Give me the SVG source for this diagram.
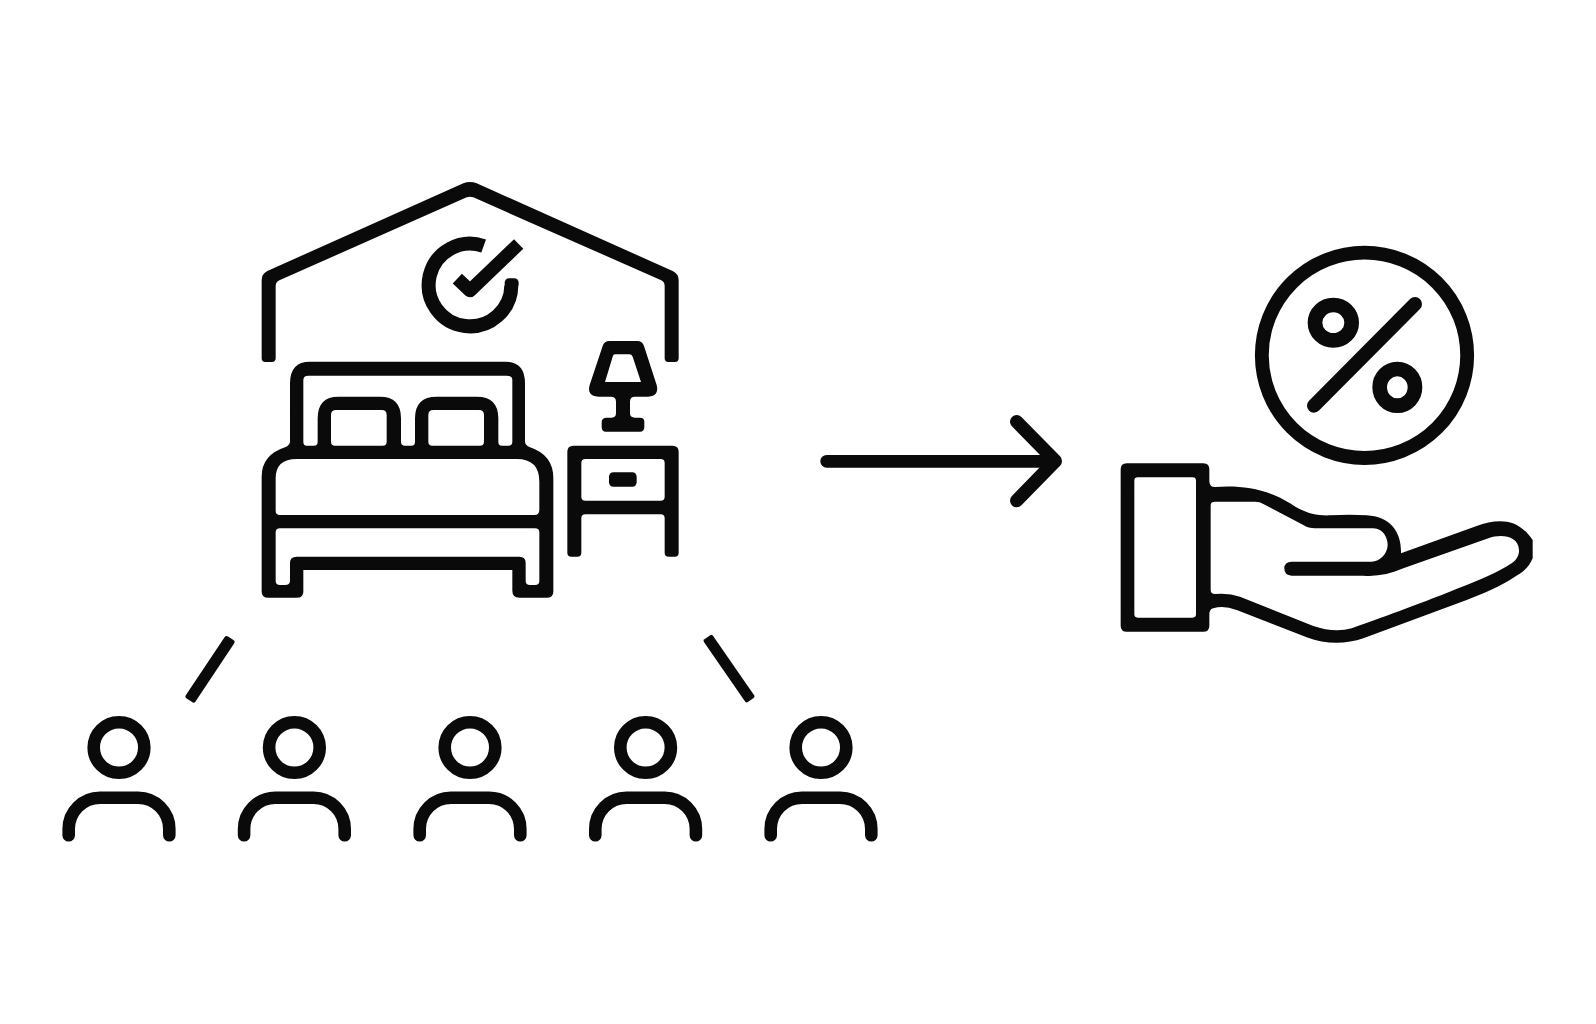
<svg xmlns="http://www.w3.org/2000/svg" width="1596" height="1024" viewBox="0 0 1596 1024">
<style>
.f{fill:#0a0a0a;fill-rule:evenodd;stroke:none}
.s{fill:none;stroke:#0a0a0a;stroke-linejoin:round}
</style>
<defs>
<g id="person">
<circle class="s" cx="0" cy="747.5" r="25.3" stroke-width="12.6"/>
<path class="s" stroke-width="12.6" stroke-linecap="round" d="M-50.3 835.3V829A31.3 31.3 0 0 1 -19 797.7H19A31.3 31.3 0 0 1 50.3 829V835.3"/>
</g>
</defs>
<rect width="1596" height="1024" fill="#fff"/>
<g id="room" transform="translate(240 170) scale(.33333)">
<g id="house">
<path class="f" d="M65 330Q65 312 82 303L670 40Q690 32 710 40L1298 303Q1316 312 1316 330V565Q1316 576 1305 576H1285Q1274 576 1274 565V348Q1274 335 1262 330L700 82Q690 78 680 82L120 330Q107 335 107 348V565Q107 576 96 576H76Q65 576 65 565Z"/>
</g>
<g id="check">
<path class="s" stroke-width="42" d="M731 228A124 124 0 1 0 814 346"/>
<rect class="f" x="794" y="325" width="42" height="30" rx="13"/>
<path class="s" stroke-width="40" d="M652 326L690 362L836 222"/>
</g>
<g id="bed">
<path class="f" d="M210 575H795Q855 575 855 640V815Q855 825 870 832Q940 855 940 925V1265Q940 1283 920 1283H838Q817 1283 817 1262V1200H190V1265Q190 1283 170 1283H85Q65 1283 65 1265V920Q65 855 135 832Q150 825 150 815V640Q150 575 210 575Z
M190 630Q190 617 205 617H800Q817 617 817 630V815Q817 827 805 827H785Q775 827 775 815V745Q775 680 710 680H590Q525 680 525 745V815Q525 827 515 827H495Q483 827 483 815V745Q483 680 420 680H295Q233 680 233 745V815Q233 827 222 827H200Q190 827 190 815Z
M273 735Q273 720 288 720H425Q440 720 440 735V815Q440 827 428 827H285Q273 827 273 815Z
M565 735Q565 720 580 720H717Q732 720 732 735V815Q732 827 720 827H577Q565 827 565 815Z
M107 925Q107 867 170 867H830Q898 867 898 935V1020Q898 1035 883 1035H120Q107 1035 107 1022Z
M107 1087Q107 1075 120 1075H885Q898 1075 898 1087V1232Q898 1245 885 1245H870Q857 1245 857 1232V1178Q857 1160 838 1160H170Q150 1160 150 1178V1232Q150 1245 135 1245H120Q107 1245 107 1232Z"/>
</g>
<g id="nightstand">
<path class="f" d="M1000 827H1298Q1316 827 1316 845V1148Q1316 1160 1304 1160H1286Q1274 1160 1274 1148V1045Q1274 1033 1262 1033H1036Q1024 1033 1024 1045V1148Q1024 1160 1012 1160H994Q982 1160 982 1148V845Q982 827 1000 827Z
M1036 867H1262Q1274 867 1274 879V980Q1274 992 1262 992H1036Q1024 992 1024 980V879Q1024 867 1036 867Z"/>
<rect class="f" x="1107" y="907" width="83" height="43" rx="13"/>
</g>
<g id="lamp">
<path class="f" d="M1108 513H1192Q1207 513 1212 528L1250 645Q1258 678 1225 680H1185Q1170 680 1170 695V730Q1170 743 1185 743H1200Q1213 743 1213 755V770Q1213 785 1200 785H1098Q1085 785 1085 770V757Q1085 743 1100 743H1115Q1128 743 1128 730V695Q1128 680 1113 680H1075Q1040 678 1049 645L1088 528Q1093 513 1108 513Z
M1125 553H1168Q1175 553 1178 560L1203 636H1095L1118 560Q1120 553 1125 553Z"/>
</g>
</g>
<g id="discount" transform="translate(1100 230) scale(.33333)">
<g id="percent">
<circle class="s" cx="793.5" cy="376" r="308" stroke-width="41.5"/>
<ellipse class="s" cx="700" cy="278" rx="55" ry="53" stroke-width="44"/>
<ellipse class="s" cx="892" cy="472" rx="53" ry="55" stroke-width="44"/>
<path class="s" stroke-width="42" stroke-linecap="round" d="M945 222L642 527"/>
</g>
<g id="hand">
<path class="f" d="M80 700H310Q328 700 328 718V755Q330 772 345 771C420 765 500 775 570 820C610 848 650 858 690 856Q750 852 800 856C870 860 905 905 903 970L1130 888C1190 868 1250 860 1298 930V985C1285 1015 1265 1030 1240 1043C1200 1070 1150 1090 1100 1110L790 1225C740 1242 680 1245 620 1222L410 1140Q370 1125 340 1135Q330 1137 328 1150V1187Q328 1205 310 1205H80Q62 1205 62 1187V718Q62 700 80 700Z
M113 742H278Q288 742 288 752V1153Q288 1163 278 1163H113Q103 1163 103 1153V752Q103 742 113 742Z
M332 825Q332 815 345 815H465Q480 815 490 822L610 885Q625 895 645 895H820C850 895 863 925 863 945C863 970 840 995 815 995H575Q553 995 553 1015Q553 1037 575 1037H790C830 1040 870 1033 910 1015L1165 925C1200 912 1255 915 1257 960C1258 975 1250 990 1235 1000Q1190 1030 1100 1065C950 1125 880 1150 755 1195C720 1205 680 1202 640 1188L420 1100Q385 1088 345 1092Q332 1092 332 1080Z"/>
</g>
</g>
<g id="person-1"><use href="#person" x="119"/></g>
<g id="person-2"><use href="#person" x="294.4"/></g>
<g id="person-3"><use href="#person" x="470"/></g>
<g id="person-4"><use href="#person" x="645.6"/></g>
<g id="person-5"><use href="#person" x="821"/></g>
<g id="connectors">
<rect class="f" x="0" y="-5.75" width="74.5" height="11.5" rx="2.5" transform="translate(230.7 638.3) rotate(123.7)"/>
<rect class="f" x="0" y="-5.5" width="76.3" height="11" rx="2" transform="translate(707.3 637.3) rotate(55.3)"/>
<g transform="translate(800 400) scale(.33333)">
<path class="s" stroke-width="38" stroke-linecap="round" d="M80 184H760"/>
<path class="s" stroke-width="40" stroke-linecap="round" d="M650 65L766 183L650 302"/>
</g>
</g>
</svg>
